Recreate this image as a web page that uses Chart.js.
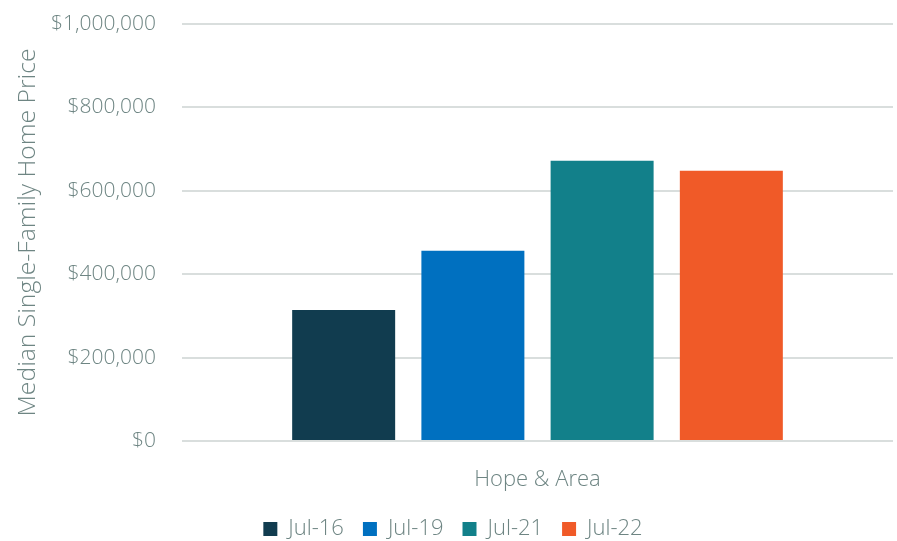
<!DOCTYPE html>
<html>
<head>
<meta charset="utf-8">
<script src="https://cdn.jsdelivr.net/npm/chart.js@4"></script>
<style>
  html, body { margin: 0; padding: 0; background: #fff; }
  #wrap { width: 897px; height: 541px; position: relative; }
</style>
</head>
<body>
<div id="wrap"><canvas id="chart"></canvas></div>
<script>
// single category, one dataset per month
var categories = ["Hope & Area"];
var seriesNames = ["Jul-16", "Jul-19", "Jul-21", "Jul-22"];
var seriesValues = [314000, 456000, 672000, 648000];
var seriesColors = ["#113C4F", "#0070C0", "#12808A", "#F05A28"];
var yTicks = [0, 200000, 400000, 600000, 800000, 1000000];

var TEXT = "#6E8583";
var GRID = "#D9DEDD";
var FONT = "'Open Sans', 'Segoe UI', sans-serif";

function money(v) {
  return "$" + v.toLocaleString("en-US");
}

var datasets = seriesNames.map(function (name, i) {
  return {
    label: name,
    data: [seriesValues[i]],
    backgroundColor: seriesColors[i],
    borderWidth: 0,
    categoryPercentage: 0.727,
    barPercentage: 0.797,
  };
});

new Chart(document.getElementById("chart"), {
  type: "bar",
  data: { labels: categories, datasets: datasets },
  options: {
    responsive: true,
    maintainAspectRatio: false,
    animation: false,
    layout: { padding: { top: 24, right: 4, bottom: -9, left: 13 } },
    plugins: {
      tooltip: { enabled: false },
      legend: {
        position: "bottom",
        labels: {
          color: TEXT,
          font: { family: FONT, size: 22, weight: 300 },
          boxWidth: 14,
          boxHeight: 14,
          padding: 19,
        },
      },
    },
    scales: {
      x: {
        grid: { display: false, drawTicks: false },
        border: { display: false },
        ticks: { color: TEXT, font: { family: FONT, size: 22, weight: 300 }, padding: 26 },
        afterFit: function (axis) { axis.height = 58; },
      },
      y: {
        min: 0,
        max: 1000000,
        afterBuildTicks: function (axis) {
          axis.ticks = yTicks.map(function (v) { return { value: v }; });
        },
        grid: { color: GRID, lineWidth: 2, drawTicks: false },
        border: { display: false },
        ticks: {
          color: TEXT,
          font: { family: FONT, size: 21, weight: 300 },
          padding: 26,
          callback: function (v) { return money(v); },
        },
        title: {
          display: true,
          text: "Median Single-Family Home Price",
          color: TEXT,
          font: { family: FONT, size: 24.7, weight: 300 },
          padding: 0,
        },
        afterFit: function (axis) {
          // keep plot left edge and top where the reference has them
          axis.width = 169;
          axis.paddingTop = 0;
          axis.paddingBottom = 0;
        },
      },
    },
  },
});
</script>
</body>
</html>
